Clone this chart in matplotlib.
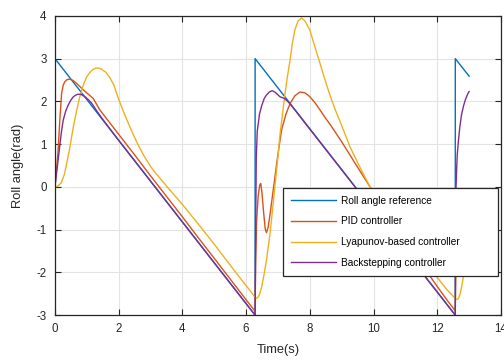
import matplotlib
matplotlib.use("Agg")
import matplotlib.pyplot as plt

plt.rcParams["font.family"] = ["Liberation Sans", "DejaVu Sans"]
plt.rcParams["axes.unicode_minus"] = False

# Roll angle reference (sawtooth, resets every 2*pi s)
ref_t = [0, 6.283, 6.283, 12.566, 12.566, 13.0]
ref_y = [3.0, -3.0, 3.0, -3.0, 3.0, 2.59]

# PID controller response
pid_t = [0, 0.05, 0.1, 0.16, 0.21, 0.26, 0.31, 0.38, 0.47, 0.57, 0.68, 0.89, 1.2, 1.41,
         2.0, 2.5, 3.0, 3.5, 4.0, 4.5, 5.0, 5.5, 6.0, 6.283,
         6.30, 6.33, 6.38, 6.43, 6.46, 6.50, 6.55, 6.60, 6.64, 6.69, 6.75, 6.82, 6.9,
         6.96, 7.04, 7.12, 7.25, 7.38, 7.53, 7.69, 7.85, 8.0, 8.16, 8.32, 8.5, 8.63,
         9.0, 9.5, 10.0, 10.5, 11.0, 11.5, 12.0, 12.3, 12.566,
         12.59, 12.62, 12.67, 12.72, 12.75, 12.79, 12.84, 12.89, 12.93, 12.98, 13.0]
pid_y = [0, 0.4, 0.86, 1.64, 2.19, 2.38, 2.46, 2.51, 2.52, 2.49, 2.42, 2.27, 2.07, 1.80,
         1.23, 0.75, 0.26, -0.22, -0.70, -1.19, -1.67, -2.155, -2.64, -2.91,
         -1.8, -0.8, -0.2, 0.05, 0.08, -0.15, -0.6, -0.98, -1.07, -0.95, -0.65, -0.25, 0.2,
         0.55, 0.97, 1.35, 1.7, 1.95, 2.13, 2.22, 2.2, 2.11, 1.97, 1.8, 1.6, 1.47,
         1.055, 0.46, -0.13, -0.70, -1.25, -1.80, -2.33, -2.64, -2.9,
         -1.8, -0.8, -0.3, -0.12, -0.1, -0.25, -0.6, -0.98, -1.06, -0.95, -0.85]

# Lyapunov-based controller response
lya_t = [0, 0.1, 0.2, 0.3, 0.37, 0.45, 0.58, 0.68, 0.78, 0.9, 1.0, 1.1, 1.2, 1.3, 1.36,
         1.45, 1.6, 1.73, 1.85, 2.0, 2.2, 2.4, 2.6, 2.8, 3.0, 3.1, 3.5, 4.0, 4.5, 5.0,
         5.5, 6.0, 6.12, 6.2, 6.28, 6.33, 6.38, 6.43, 6.5, 6.57, 6.64, 6.75, 6.85, 6.93,
         7.01, 7.06, 7.12, 7.17, 7.28, 7.38, 7.45, 7.53, 7.63, 7.74, 7.85, 8.0, 8.15,
         8.32, 8.47, 8.63, 8.8, 8.95, 9.26, 9.6, 9.89, 10.5, 11.0, 11.5, 11.98, 12.3,
         12.5, 12.61, 12.66, 12.72, 12.78, 12.85, 12.92, 13.0]
lya_y = [0, 0.02, 0.1, 0.3, 0.55, 0.85, 1.41, 1.78, 2.11, 2.4, 2.58, 2.68, 2.75, 2.78, 2.78,
         2.76, 2.68, 2.55, 2.38, 2.05, 1.67, 1.32, 1.0, 0.72, 0.48, 0.38, 0.02, -0.41, -0.87, -1.34,
         -1.83, -2.31, -2.42, -2.5, -2.58, -2.61, -2.58, -2.5, -2.3, -2.02, -1.71, -1.1, -0.39, 0.2,
         0.78, 1.2, 1.56, 1.88, 2.5, 2.97, 3.35, 3.67, 3.88, 3.95, 3.88, 3.67, 3.3,
         2.89, 2.52, 2.15, 1.8, 1.53, 0.94, 0.42, 0.0, -0.68, -1.18, -1.65, -2.1, -2.4,
         -2.56, -2.63, -2.62, -2.5, -2.28, -1.95, -1.55, -1.1]

# Backstepping controller response
bs_t = [0, 0.05, 0.1, 0.16, 0.21, 0.26, 0.34, 0.42, 0.5, 0.58, 0.66, 0.73, 0.83, 0.94,
        1.05, 1.15, 1.3, 1.5, 2.0, 3.0, 4.0, 5.0, 6.0, 6.283,
        6.30, 6.32, 6.35, 6.42, 6.49, 6.57, 6.64, 6.73, 6.82, 6.92, 7.06, 7.2, 7.32, 7.5,
        8.0, 9.0, 10.0, 11.0, 12.0, 12.566,
        12.57, 12.58, 12.59, 12.61, 12.63, 12.67, 12.71, 12.76, 12.82, 12.87, 12.92, 12.96, 13.0]
bs_y = [0, 0.32, 0.63, 1.02, 1.32, 1.56, 1.78, 1.92, 2.03, 2.11, 2.15, 2.17, 2.16, 2.11,
        2.04, 1.96, 1.79, 1.58, 1.09, 0.135, -0.82, -1.775, -2.73, -3.0,
        -1.0, 0.7, 1.3, 1.7, 1.9, 2.07, 2.15, 2.22, 2.25, 2.21, 2.11, 2.07, 1.99, 1.83,
        1.35, 0.40, -0.555, -1.51, -2.46, -3.0,
        -1.0, -0.3, 0.0, 0.45, 0.78, 1.12, 1.41, 1.68, 1.88, 2.01, 2.11, 2.18, 2.23]

fig = plt.figure(figsize=(5.04, 3.61), dpi=100)
ax = fig.add_axes([0.109, 0.127, 0.885, 0.829])

lw = 1.0
ax.plot(ref_t, ref_y, color="#0072BD", lw=lw, label="Roll angle reference")
ax.plot(pid_t, pid_y, color="#D95319", lw=lw, label="PID controller")
ax.plot(lya_t, lya_y, color="#EDB120", lw=lw, label="Lyapunov-based controller")
ax.plot(bs_t, bs_y, color="#7E2F8E", lw=lw, label="Backstepping controller")

ax.set_xlim(0, 14)
ax.set_ylim(-3, 4)
ax.set_xticks(range(0, 15, 2))
ax.set_yticks(range(-3, 5))
ax.grid(True, color="#e3e3e3", lw=0.8)
ax.set_axisbelow(True)
ax.tick_params(direction="in", top=True, right=True, labelsize=8.3,
               colors="#262626", length=4, width=0.8, pad=6)
for s in ax.spines.values():
    s.set_color("#262626")
    s.set_linewidth(0.9)

ax.set_xlabel("Time(s)", fontsize=9.3, color="#262626", labelpad=6)
ax.set_ylabel("Roll angle(rad)", fontsize=9.3, color="#262626", labelpad=9)

leg = ax.legend(loc="center", bbox_to_anchor=(0.511, 0.131, 0.482, 0.295),
                mode="expand", fontsize=7.3, fancybox=False, framealpha=1,
                edgecolor="#262626", handlelength=4.4, handletextpad=0.5,
                labelspacing=1.05, borderpad=0.8, borderaxespad=0)
leg.get_frame().set_linewidth(0.9)

fig.savefig("out.png", dpi=100)
